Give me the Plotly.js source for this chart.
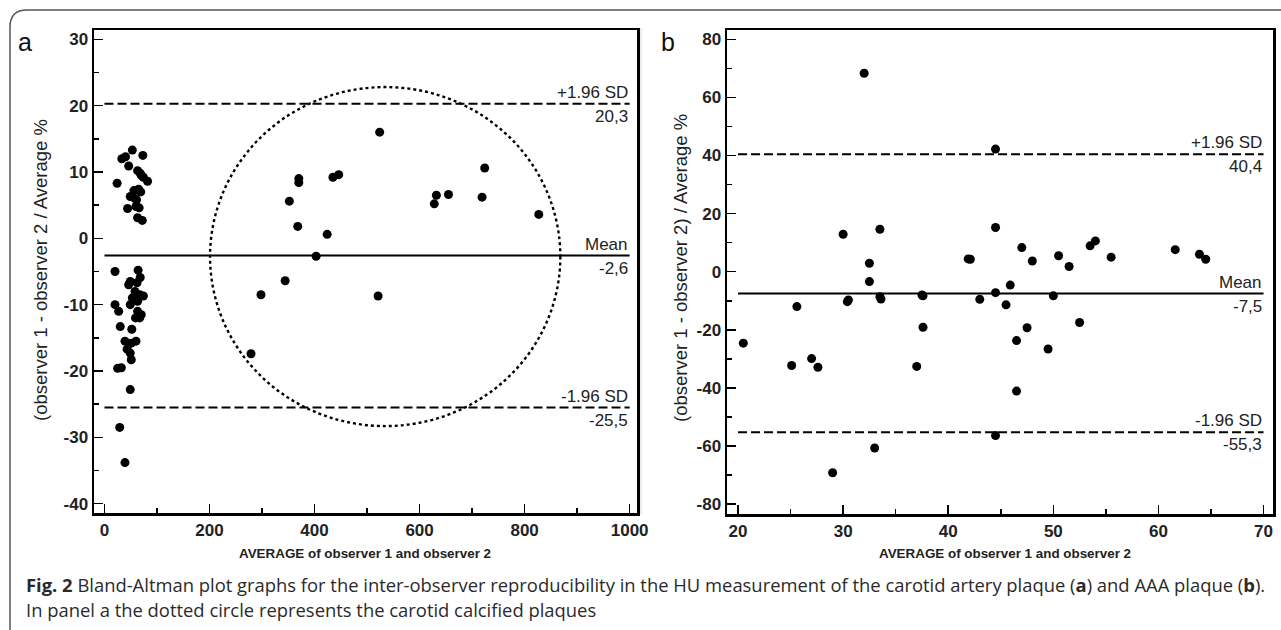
<!DOCTYPE html>
<html>
<head>
<meta charset="utf-8">
<script src="https://cdn.plot.ly/plotly-3.0.1.min.js"></script>
<style>
html,body{margin:0;padding:0;background:#fff;}
#chart{width:1281px;height:630px;}
</style>
</head>
<body>
<div id="chart"></div>
<script>
// ---------- Panel a: carotid artery plaque ----------
const aX = [24,33,40,46,53,73,63,68,74,82,56,69,65,49,61,44,66,63,72,58,70,60,
            20,64,49,68,62,46,58,67,74,53,63,20,49,27,63,70,59,67,30,52,39,60,51,43,49,51,25,32,49,29,39,
            524,370,370,435,446,352,368,424,403,344,298,521,724,632,628,655,719,827,279];
const aY = [8.3,12.0,12.3,10.9,13.3,12.5,10.2,9.8,9.2,8.6,7.2,7.0,7.4,6.3,5.8,4.5,4.6,3.1,2.7,6.0,9.5,4.8,
            -5.0,-4.8,-6.5,-5.9,-6.7,-7.0,-8.0,-8.5,-8.7,-9.0,-9.5,-10.0,-10.0,-11.0,-11.0,-11.5,-12.0,-12.0,-13.3,-13.7,-15.5,-15.5,-15.8,-16.7,-17.3,-18.3,-19.6,-19.5,-22.8,-28.5,-33.8,
            16.0,9.0,8.4,9.2,9.6,5.6,1.8,0.6,-2.7,-6.4,-8.5,-8.7,10.6,6.5,5.2,6.6,6.2,3.6,-17.4];
const aMean = -2.6, aUpper = 20.3, aLower = -25.5;
const aLineX = [0, 1000];
const aCircleX = [201, 868], aCircleY = [-28.3, 22.8];
const aXTicks = [0, 200, 400, 600, 800, 1000];
const aXTickText = ["0", "200", "400", "600", "800", "1000"];
const aYTicks = [-40, -30, -20, -10, 0, 10, 20, 30];
const aYTickText = ["-40", "-30", "-20", "-10", "0", "10", "20", "30"];

// ---------- Panel b: AAA plaque ----------
const bX = [32.0,30.0,33.5,32.5,32.5,41.9,33.5,37.5,30.5,25.6,30.4,33.6,37.6,20.5,25.1,27.0,27.6,37.6,37.0,33.0,29.0,
            44.5,44.5,42.1,47.0,48.0,50.5,51.5,53.5,54.0,55.5,61.6,63.9,64.5,45.9,44.5,43.0,45.5,50.0,52.5,47.5,46.5,49.5,46.5,44.5];
const bY = [68.3,12.9,14.6,2.9,-3.4,4.4,-8.6,-8.0,-9.7,-12.0,-10.3,-9.4,-8.3,-24.6,-32.3,-29.9,-32.9,-19.1,-32.6,-60.7,-69.2,
            42.2,15.2,4.3,8.3,3.7,5.5,1.8,8.9,10.6,5.0,7.6,6.0,4.3,-4.6,-7.2,-9.5,-11.4,-8.3,-17.5,-19.3,-23.7,-26.6,-41.1,-56.4];
const bMean = -7.5, bUpper = 40.4, bLower = -55.3;
const bLineX = [20, 70];
const bXTicks = [20, 30, 40, 50, 60, 70];
const bXTickText = ["20", "30", "40", "50", "60", "70"];
const bYTicks = [-80, -60, -40, -20, 0, 20, 40, 60, 80];
const bYTickText = ["-80", "-60", "-40", "-20", "0", "20", "40", "60", "80"];

// ---------- Texts ----------
const yTitleA = "(observer 1 - observer 2 / Average %";
const yTitleB = "(observer 1 - observer 2) / Average %";
const xTitle = "AVERAGE of observer 1 and observer 2";
const labelsA = {upper: ["+1.96 SD", "20,3"], mean: ["Mean", "-2,6"], lower: ["-1.96 SD", "-25,5"]};
const labelsB = {upper: ["+1.96 SD", "40,4"], mean: ["Mean", "-7,5"], lower: ["-1.96 SD", "-55,3"]};
const caption1 = "<b>Fig. 2</b> Bland-Altman plot graphs for the inter-observer reproducibility in the HU measurement of the carotid artery plaque (<b>a</b>) and AAA plaque (<b>b</b>).";
const caption2 = "In panel a the dotted circle represents the carotid calcified plaques";

const W = 1281, H = 630;
const px = v => v / W, py = v => 1 - v / H;

const dashed = {color: '#000', width: 2, dash: '9px,4px'};
const solid = {color: '#000', width: 2};

function hline(xs, yv, xa, ya, line) {
  return {x: xs, y: [yv, yv], xaxis: xa, yaxis: ya, mode: 'lines', line: line, hoverinfo: 'skip', showlegend: false};
}

const traces = [
  hline(aLineX, aUpper, 'x', 'y', dashed),
  hline(aLineX, aMean, 'x', 'y', solid),
  hline(aLineX, aLower, 'x', 'y', dashed),
  {x: aX, y: aY, xaxis: 'x', yaxis: 'y', mode: 'markers', marker: {color: '#000', size: 9}, showlegend: false},
  hline(bLineX, bUpper, 'x2', 'y2', dashed),
  hline(bLineX, bMean, 'x2', 'y2', solid),
  hline(bLineX, bLower, 'x2', 'y2', dashed),
  {x: bX, y: bY, xaxis: 'x2', yaxis: 'y2', mode: 'markers', marker: {color: '#000', size: 9}, showlegend: false}
];

const SANS = 'Liberation Sans, Arial, sans-serif';
const tickFont = {family: SANS, size: 17, color: '#222', weight: 'bold'};
function axis(extra, minorDtick) {
  return Object.assign({
    showline: true, mirror: true, linecolor: '#000', linewidth: 2.5,
    ticks: 'inside', ticklen: 9, tickwidth: 1.5, tickcolor: '#000', tickmode: 'array',
    showgrid: false, zeroline: false, tickfont: tickFont, fixedrange: true,
    minor: {ticks: 'inside', ticklen: 5, tickwidth: 1.5, tickcolor: '#000', dtick: minorDtick, tick0: 0, showgrid: false}
  }, extra);
}

const annFont = {family: SANS, size: 17, color: '#222'};
function lineLabels(xr, yr, xv, vals, labels) {
  const out = [];
  ['upper', 'mean', 'lower'].forEach(k => {
    out.push({xref: xr, yref: yr, x: xv, y: vals[k], text: labels[k][0], showarrow: false,
              xanchor: 'right', yanchor: 'bottom', yshift: 0, font: annFont});
    out.push({xref: xr, yref: yr, x: xv, y: vals[k], text: labels[k][1], showarrow: false,
              xanchor: 'right', yanchor: 'top', yshift: -1, font: annFont});
  });
  return out;
}

const annotations = [
  ...lineLabels('x', 'y', aLineX[1], {upper: aUpper, mean: aMean, lower: aLower}, labelsA),
  ...lineLabels('x2', 'y2', bLineX[1], {upper: bUpper, mean: bMean, lower: bLower}, labelsB),
  {xref: 'paper', yref: 'paper', x: px(40), y: py(270), text: yTitleA, textangle: -90, showarrow: false,
   xanchor: 'center', yanchor: 'middle', font: {family: SANS, size: 18.5, color: '#222'}},
  {xref: 'paper', yref: 'paper', x: px(680), y: py(268), text: yTitleB, textangle: -90, showarrow: false,
   xanchor: 'center', yanchor: 'middle', font: {family: SANS, size: 18.5, color: '#222'}},
  {xref: 'paper', yref: 'paper', x: px(365), y: py(553), text: '<b>' + xTitle + '</b>', showarrow: false,
   xanchor: 'center', yanchor: 'middle', font: {family: SANS, size: 13.4, color: '#222'}},
  {xref: 'paper', yref: 'paper', x: px(1005), y: py(553), text: '<b>' + xTitle + '</b>', showarrow: false,
   xanchor: 'center', yanchor: 'middle', font: {family: SANS, size: 13.4, color: '#222'}},
  {xref: 'paper', yref: 'paper', x: px(25), y: py(42), text: 'a', showarrow: false,
   xanchor: 'center', yanchor: 'middle', font: {family: SANS, size: 25, color: '#111'}},
  {xref: 'paper', yref: 'paper', x: px(668), y: py(42), text: 'b', showarrow: false,
   xanchor: 'center', yanchor: 'middle', font: {family: SANS, size: 25, color: '#111'}},
  {xref: 'paper', yref: 'paper', x: px(24), y: py(584), text: caption1, showarrow: false,
   xanchor: 'left', yanchor: 'middle', font: {family: 'Open Sans, Noto Sans, sans-serif', size: 18.4, color: '#2a2a2a'}},
  {xref: 'paper', yref: 'paper', x: px(24), y: py(609), text: caption2, showarrow: false,
   xanchor: 'left', yanchor: 'middle', font: {family: 'Open Sans, Noto Sans, sans-serif', size: 18.4, color: '#2a2a2a'}}
];

const shapes = [
  {type: 'circle', xref: 'x', yref: 'y', x0: aCircleX[0], x1: aCircleX[1], y0: aCircleY[0], y1: aCircleY[1],
   line: {color: '#000', width: 2.4, dash: 'dot'}, layer: 'above'},
  {type: 'path', xref: 'paper', yref: 'paper',
   path: `M ${px(10)},0 L ${px(10)},${py(27)} Q ${px(10)},${py(10)} ${px(27)},${py(10)} L 1,${py(10)}`,
   line: {color: '#555', width: 1.5}},
  {type: 'line', xref: 'paper', yref: 'paper', x0: px(641), x1: px(641), y0: py(28), y1: py(515),
   line: {color: '#dcdcdc', width: 1}}
];

const layout = {
  width: W, height: H,
  margin: {l: 0, r: 0, t: 0, b: 0},
  paper_bgcolor: '#fff', plot_bgcolor: '#fff',
  showlegend: false,
  xaxis: axis({domain: [px(94), px(637)], range: [-20, 1014], tickvals: aXTicks, ticktext: aXTickText, anchor: 'y'}, 100),
  yaxis: axis({domain: [py(513), py(30)], range: [-41.4, 31.4], tickvals: aYTicks, ticktext: aYTickText, anchor: 'x'}, 5),
  xaxis2: axis({domain: [px(727), px(1273)], range: [18.95, 70.9], tickvals: bXTicks, ticktext: bXTickText, anchor: 'y2'}, 5),
  yaxis2: axis({domain: [py(514), py(30)], range: [-83.4, 83.2], tickvals: bYTicks, ticktext: bYTickText, anchor: 'x2'}, 10),
  annotations: annotations,
  shapes: shapes
};

Plotly.newPlot('chart', traces, layout, {staticPlot: true, displayModeBar: false});
</script>
</body>
</html>
